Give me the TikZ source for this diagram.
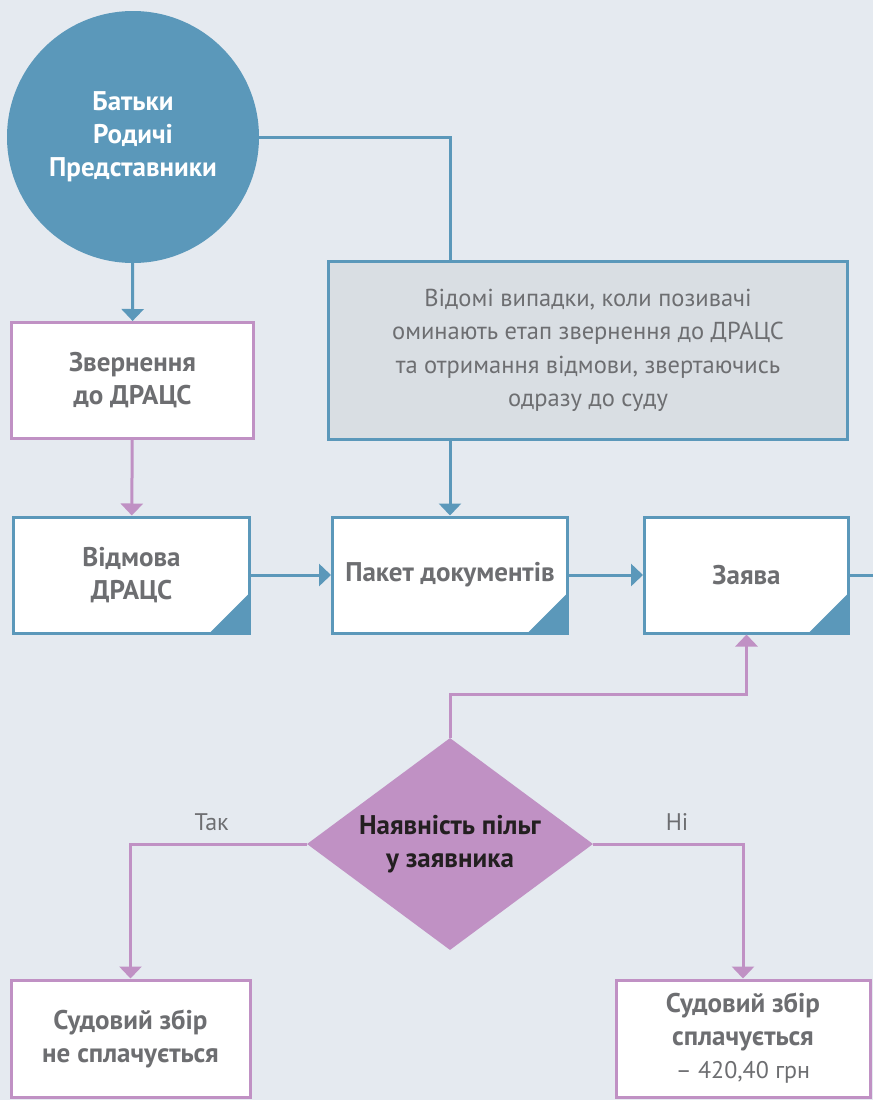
\documentclass[tikz,border=0pt]{standalone}
\usepackage{fontspec}
\setmainfont{PT Sans}
\usepackage{xcolor}
\definecolor{bgblue}{RGB}{229,234,240}
\definecolor{darkblue}{RGB}{91,152,186}
\definecolor{mypurple}{RGB}{192,145,196}
\definecolor{notefill}{RGB}{217,222,227}
\definecolor{textgray}{RGB}{109,110,113}
\definecolor{textdark}{RGB}{35,31,32}
\usepackage{tikz}
\usetikzlibrary{arrows.meta}
\usetikzlibrary{shapes.geometric}
\newcommand{\heightbox}{116pt}
\newcommand{\sizefold}{40pt}
\newcommand{\boxfont}{\bfseries\fontsize{27}{33}\selectfont}
\tikzset{
    common/.style={draw, line width=3pt, fill=white, align=center, text=textgray, inner sep=0pt, font=\boxfont},
    stage/.style={common, draw=mypurple, minimum height=\heightbox},
    doc/.style={common, draw=darkblue, minimum height=\heightbox,
        path picture={
            \fill[darkblue]
                ([xshift=-\sizefold]path picture bounding box.south east) -- (path picture bounding box.south east)
                -- ([yshift=\sizefold]path picture bounding box.south east) -- cycle;
        }
    },
    note/.style={common, draw=darkblue, fill=notefill, font=\fontsize{24.5}{33.5}\selectfont, minimum width=519pt, minimum height=178pt},
    who/.style={circle, fill=darkblue, text=white, align=center, minimum size=252pt, font=\boxfont},
    choice/.style={diamond, aspect=1.34, fill=mypurple, text=textdark, align=center, inner sep=0pt, minimum width=286pt, minimum height=212pt, font=\boxfont},
    link-blue/.style={line width=3pt, darkblue},
    link-purple/.style={line width=3pt, mypurple},
    flow-blue/.style={link-blue, -{Triangle[width=22pt, length=12pt]}},
    flow-purple/.style={link-purple, -{Triangle[width=22pt, length=12pt]}},
    answer/.style={text=textgray, inner sep=0pt, anchor=base, yshift=14pt, font=\fontsize{24}{28}\selectfont}
}
\begin{document}
\begin{tikzpicture}[x=1pt, y=-1pt]
      \fill[bgblue] (0,0) rectangle (873,1100);
      \useasboundingbox (0,0) rectangle (873,1100);

      \path
          (133,137) node[who] (parents) {Батьки\\Родичі\\Представники}
          (132.5,380.5) node[stage, minimum width=242pt] (appeal) {Звернення\\до ДРАЦС}
          (588,350.5) node[note] (note) {Відомі випадки, коли позивачі\\оминають етап звернення до ДРАЦС\\та отримання відмови, звертаючись\\одразу до суду};

      \path
          (131.5,575) node[doc, minimum width=236pt] (refusal) {Відмова\\ДРАЦС}
          (450,575) node[doc, minimum width=235pt] (package) {Пакет документів}
          (746.5,575) node[doc, minimum width=204pt] (claim) {Заява}
          (873,575) coordinate (claim-out);

      \path
          (450,844) node[choice] (choice) {Наявність пільг\\у заявника}
          (130.5,1038.5) node[stage, minimum width=239pt, minimum height=117pt] (free) {Судовий збір\\не сплачується}
          (743,1038.5) node[stage, minimum width=254pt, minimum height=117pt] (paid) {Судовий збір\\сплачується\\{\mdseries\fontsize{24}{33}\selectfont – 420,40 грн}};

      \draw[link-blue] (parents) -| (note.north -| package.north);
      \draw[flow-blue] (parents) -- (appeal);
      \draw[flow-purple] (appeal) -- (refusal);
      \draw[flow-blue] (package.north |- note.south) -- (package.north);
      \draw[flow-blue] (refusal) -- (package);
      \draw[flow-blue] (package) -- (claim);
      \draw[link-blue] (claim) -- (claim-out);

      \draw[flow-purple] (choice.north) -- ++(0,-43) -| (claim.south);
      \draw[flow-purple] (choice.west) -| node[answer, pos=0.27] {Так} (free.north);
      \draw[flow-purple] (choice.east) -| node[answer, pos=0.28] {Ні} (paid.north);
\end{tikzpicture}
\end{document}
